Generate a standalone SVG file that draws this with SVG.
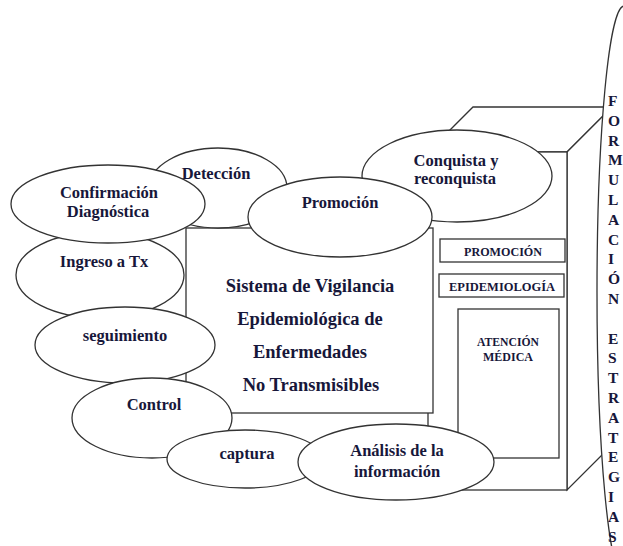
<svg xmlns="http://www.w3.org/2000/svg" width="623" height="546" viewBox="0 0 623 546">
<style>
.sh{fill:#fff;stroke:#333;stroke-width:1.3}
.t{font-family:"Liberation Serif","Times New Roman",serif;font-weight:bold;fill:#17173a;text-anchor:middle}
.l{font-size:16.5px}
.c{font-size:18.5px}
.s{font-size:13px}
.v{font-family:"Liberation Serif","Times New Roman",serif;font-weight:bold;fill:#17173a;font-size:15.5px}
</style>
<rect width="623" height="546" fill="#fff"/>
<g id="box3d">
<polygon class="sh" points="428,152 473,107 612,107 567,152"/>
<polygon class="sh" points="567,152 612,107 612,445 567,490"/>
<rect class="sh" x="428" y="152" width="139" height="338"/>
</g>
<g id="sistema">
<rect class="sh" x="186" y="228" width="247" height="185"/>
<text class="t c" x="310" y="292">Sistema de Vigilancia</text>
<text class="t c" x="310" y="325">Epidemiológica de</text>
<text class="t c" x="310" y="358">Enfermedades</text>
<text class="t c" x="311" y="391">No Transmisibles</text>
</g>
<g id="promocion-box">
<rect class="sh" x="440" y="239" width="125" height="23" stroke-width="1.8"/>
<text class="t s" x="503" y="256" textLength="78" lengthAdjust="spacingAndGlyphs">PROMOCIÓN</text>
</g>
<g id="epidemiologia-box">
<rect class="sh" x="439" y="274" width="125" height="23" stroke-width="1.8"/>
<text class="t s" x="502" y="291" textLength="106" lengthAdjust="spacingAndGlyphs">EPIDEMIOLOGÍA</text>
</g>
<g id="atencion-box">
<rect class="sh" x="458" y="309" width="101" height="149" stroke-width="1.8"/>
<text class="t" font-size="12" x="508" y="346" textLength="62" lengthAdjust="spacingAndGlyphs">ATENCIÓN</text>
<text class="t" font-size="12" x="508" y="361" textLength="50" lengthAdjust="spacingAndGlyphs">MÉDICA</text>
</g>
<g id="deteccion">
<ellipse class="sh" cx="218" cy="188" rx="69" ry="40"/>
<text class="t l" x="216" y="179">Detección</text>
</g>
<g id="conquista">
<ellipse class="sh" cx="457" cy="176" rx="95" ry="46"/>
<text class="t l" x="456" y="166">Conquista y</text>
<text class="t l" x="455" y="184">reconquista</text>
</g>
<g id="promocion">
<ellipse class="sh" cx="340" cy="217" rx="92" ry="40"/>
<text class="t l" x="340" y="208">Promoción</text>
</g>
<g id="ingreso">
<ellipse class="sh" cx="100" cy="275" rx="84" ry="43"/>
<text class="t l" x="104" y="267">Ingreso a Tx</text>
</g>
<g id="confirmacion">
<ellipse class="sh" cx="108" cy="204" rx="97" ry="39"/>
<text class="t l" x="109" y="198">Confirmación</text>
<text class="t l" x="108" y="217">Diagnóstica</text>
</g>
<g id="seguimiento">
<ellipse class="sh" cx="125" cy="345" rx="90" ry="38"/>
<text class="t l" x="125" y="341">seguimiento</text>
</g>
<g id="control">
<ellipse class="sh" cx="152" cy="418" rx="80" ry="40"/>
<text class="t l" x="154" y="410">Control</text>
</g>
<g id="captura">
<ellipse class="sh" cx="245" cy="459" rx="78" ry="29"/>
<text class="t l" x="247" y="459">captura</text>
</g>
<g id="analisis">
<ellipse class="sh" cx="396" cy="462" rx="98" ry="38"/>
<text class="t l" x="397" y="456">Análisis de la</text>
<text class="t l" x="397" y="477">información</text>
</g>
<g id="formulacion-estrategias">
<ellipse class="sh" cx="624" cy="292" rx="27" ry="286"/>
<text class="v" x="608" y="106"><tspan x="608">F</tspan><tspan x="608" dy="19.8">O</tspan><tspan x="608" dy="19.8">R</tspan><tspan x="608" dy="19.8">M</tspan><tspan x="608" dy="19.8">U</tspan><tspan x="608" dy="19.8">L</tspan><tspan x="608" dy="19.8">A</tspan><tspan x="608" dy="19.8">C</tspan><tspan x="608" dy="19.8">I</tspan><tspan x="608" dy="19.8">Ó</tspan><tspan x="608" dy="19.8">N</tspan><tspan x="608" dy="39.6">E</tspan><tspan x="608" dy="19.8">S</tspan><tspan x="608" dy="19.8">T</tspan><tspan x="608" dy="19.8">R</tspan><tspan x="608" dy="19.8">A</tspan><tspan x="608" dy="19.8">T</tspan><tspan x="608" dy="19.8">E</tspan><tspan x="608" dy="19.8">G</tspan><tspan x="608" dy="19.8">I</tspan><tspan x="608" dy="19.8">A</tspan><tspan x="608" dy="19.8">S</tspan></text>
</g>
<g id="connectors"/>
</svg>
